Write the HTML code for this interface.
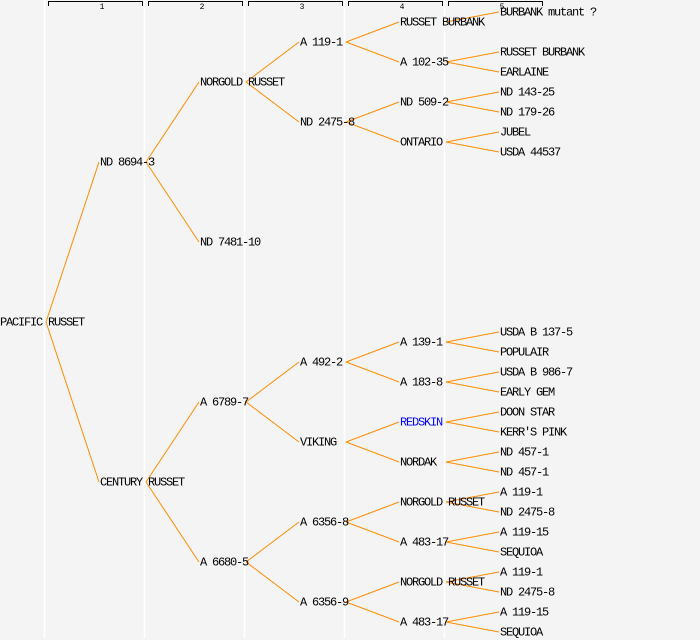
<!DOCTYPE html>
<html><head><meta charset="utf-8"><style>
html,body{margin:0;padding:0;background:#f4f4f4;}
svg{display:block;}
text{font-family:"Liberation Mono",monospace;font-size:12px;letter-spacing:-1.2px;fill:#000;}
</style></head><body>
<svg width="700" height="640" viewBox="0 0 700 640" xmlns="http://www.w3.org/2000/svg">
<rect width="700" height="640" fill="#f4f4f4"/>
<g stroke="#fff" stroke-width="1.5">
<line x1="44.5" y1="0" x2="44.5" y2="638"/>
<line x1="144.5" y1="0" x2="144.5" y2="638"/>
<line x1="244.5" y1="0" x2="244.5" y2="638"/>
<line x1="344.5" y1="0" x2="344.5" y2="638"/>
<line x1="444.5" y1="0" x2="444.5" y2="638"/>
</g>
<g stroke="#000" stroke-width="1" fill="none">
<path d="M48.5 6V1.5H142.5V6"/>
<path d="M148.5 6V1.5H242.5V6"/>
<path d="M248.5 6V1.5H342.5V6"/>
<path d="M348.5 6V1.5H442.5V6"/>
<path d="M448.5 6V1.5H542.5V6"/>
</g>
<g text-anchor="middle">
<text x="102" y="9" style="font-size:8px;letter-spacing:0">1</text>
<text x="202" y="9" style="font-size:8px;letter-spacing:0">2</text>
<text x="302" y="9" style="font-size:8px;letter-spacing:0">3</text>
<text x="402" y="9" style="font-size:8px;letter-spacing:0">4</text>
<text x="502" y="9" style="font-size:8px;letter-spacing:0">5</text>
</g>
<g stroke="#ff8c00" stroke-width="1" fill="none">
<line x1="46" y1="322" x2="99" y2="162"/>
<line x1="46" y1="322" x2="99" y2="482"/>
<line x1="146" y1="162" x2="199" y2="82"/>
<line x1="146" y1="162" x2="199" y2="242"/>
<line x1="146" y1="482" x2="199" y2="402"/>
<line x1="146" y1="482" x2="199" y2="562"/>
<line x1="246" y1="82" x2="299" y2="42"/>
<line x1="246" y1="82" x2="299" y2="122"/>
<line x1="246" y1="402" x2="299" y2="362"/>
<line x1="246" y1="402" x2="299" y2="442"/>
<line x1="246" y1="562" x2="299" y2="522"/>
<line x1="246" y1="562" x2="299" y2="602"/>
<line x1="346" y1="42" x2="399" y2="22"/>
<line x1="346" y1="42" x2="399" y2="62"/>
<line x1="346" y1="122" x2="399" y2="102"/>
<line x1="346" y1="122" x2="399" y2="142"/>
<line x1="346" y1="362" x2="399" y2="342"/>
<line x1="346" y1="362" x2="399" y2="382"/>
<line x1="346" y1="442" x2="399" y2="422"/>
<line x1="346" y1="442" x2="399" y2="462"/>
<line x1="346" y1="522" x2="399" y2="502"/>
<line x1="346" y1="522" x2="399" y2="542"/>
<line x1="346" y1="602" x2="399" y2="582"/>
<line x1="346" y1="602" x2="399" y2="622"/>
<line x1="446" y1="22" x2="499" y2="12"/>
<line x1="446" y1="62" x2="499" y2="52"/>
<line x1="446" y1="62" x2="499" y2="72"/>
<line x1="446" y1="102" x2="499" y2="92"/>
<line x1="446" y1="102" x2="499" y2="112"/>
<line x1="446" y1="142" x2="499" y2="132"/>
<line x1="446" y1="142" x2="499" y2="152"/>
<line x1="446" y1="342" x2="499" y2="332"/>
<line x1="446" y1="342" x2="499" y2="352"/>
<line x1="446" y1="382" x2="499" y2="372"/>
<line x1="446" y1="382" x2="499" y2="392"/>
<line x1="446" y1="422" x2="499" y2="412"/>
<line x1="446" y1="422" x2="499" y2="432"/>
<line x1="446" y1="462" x2="499" y2="452"/>
<line x1="446" y1="462" x2="499" y2="472"/>
<line x1="446" y1="502" x2="499" y2="492"/>
<line x1="446" y1="502" x2="499" y2="512"/>
<line x1="446" y1="542" x2="499" y2="532"/>
<line x1="446" y1="542" x2="499" y2="552"/>
<line x1="446" y1="582" x2="499" y2="572"/>
<line x1="446" y1="582" x2="499" y2="592"/>
<line x1="446" y1="622" x2="499" y2="612"/>
<line x1="446" y1="622" x2="499" y2="632"/>
</g>
<g transform="translate(0,-0.5)">
<text x="0" y="326">PACIFIC RUSSET</text>
<text x="100" y="166">ND 8694-3</text>
<text x="100" y="486">CENTURY RUSSET</text>
<text x="200" y="86">NORGOLD RUSSET</text>
<text x="200" y="246">ND 7481-10</text>
<text x="200" y="406">A 6789-7</text>
<text x="200" y="566">A 6680-5</text>
<text x="300" y="46">A 119-1</text>
<text x="300" y="126">ND 2475-8</text>
<text x="300" y="366">A 492-2</text>
<text x="300" y="446">VIKING</text>
<text x="300" y="526">A 6356-8</text>
<text x="300" y="606">A 6356-9</text>
<text x="400" y="26">RUSSET BURBANK</text>
<text x="400" y="66">A 102-35</text>
<text x="400" y="106">ND 509-2</text>
<text x="400" y="146">ONTARIO</text>
<text x="400" y="346">A 139-1</text>
<text x="400" y="386">A 183-8</text>
<text x="400" y="426" style="fill:#0000ff">REDSKIN</text>
<text x="400" y="466">NORDAK</text>
<text x="400" y="506">NORGOLD RUSSET</text>
<text x="400" y="546">A 483-17</text>
<text x="400" y="586">NORGOLD RUSSET</text>
<text x="400" y="626">A 483-17</text>
<text x="500" y="16">BURBANK mutant ?</text>
<text x="500" y="56">RUSSET BURBANK</text>
<text x="500" y="76">EARLAINE</text>
<text x="500" y="96">ND 143-25</text>
<text x="500" y="116">ND 179-26</text>
<text x="500" y="136">JUBEL</text>
<text x="500" y="156">USDA 44537</text>
<text x="500" y="336">USDA B 137-5</text>
<text x="500" y="356">POPULAIR</text>
<text x="500" y="376">USDA B 986-7</text>
<text x="500" y="396">EARLY GEM</text>
<text x="500" y="416">DOON STAR</text>
<text x="500" y="436">KERR'S PINK</text>
<text x="500" y="456">ND 457-1</text>
<text x="500" y="476">ND 457-1</text>
<text x="500" y="496">A 119-1</text>
<text x="500" y="516">ND 2475-8</text>
<text x="500" y="536">A 119-15</text>
<text x="500" y="556">SEQUIOA</text>
<text x="500" y="576">A 119-1</text>
<text x="500" y="596">ND 2475-8</text>
<text x="500" y="616">A 119-15</text>
<text x="500" y="636">SEQUIOA</text>
</g>
</svg>
</body></html>
